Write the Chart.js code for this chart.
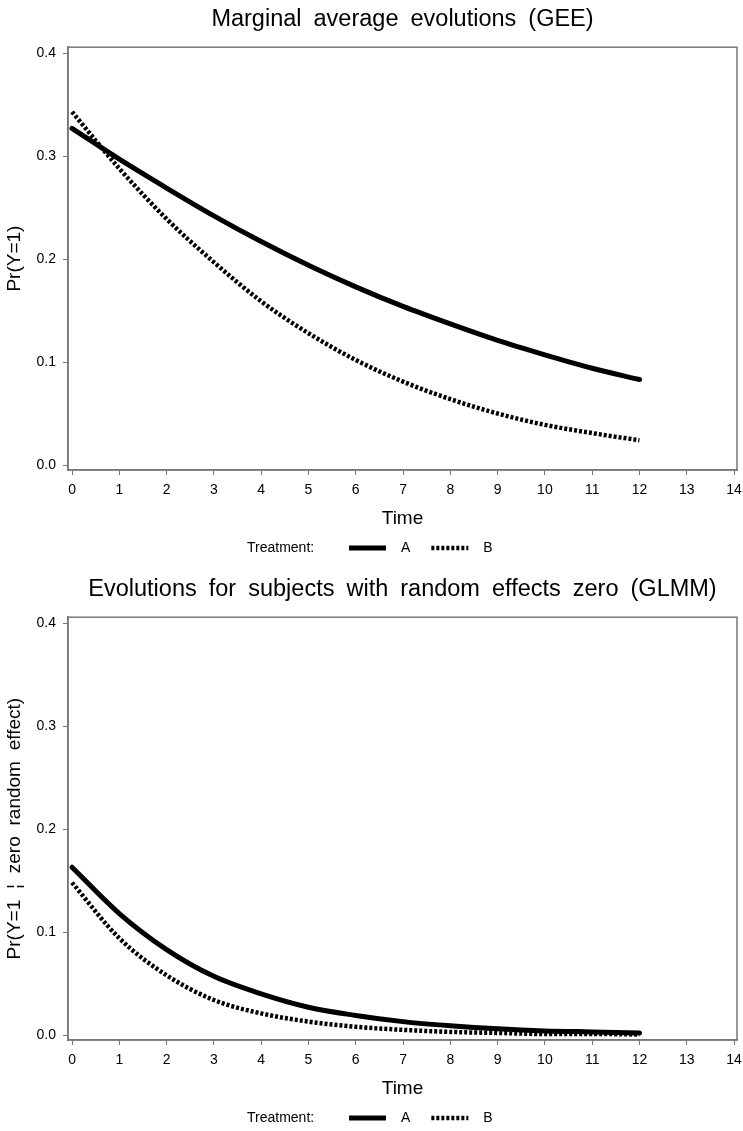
<!DOCTYPE html>
<html>
<head>
<meta charset="utf-8">
<script src="https://cdn.jsdelivr.net/npm/chart.js@4.4.0/dist/chart.umd.min.js"></script>
<style>
  html, body { margin: 0; padding: 0; background: #fff; }
  .box { position: absolute; left: 0; width: 743px; height: 561px; }
</style>
</head>
<body>
<div class="box" style="top:0"><canvas id="gee"></canvas></div>
<div class="box" style="top:570px"><canvas id="glmm"></canvas></div>
<script>
// time points
var times = [0, 1, 2, 3, 4, 5, 6, 7, 8, 9, 10, 11, 12];

// GEE marginal curves
var geeA = [0.327, 0.297, 0.269, 0.242, 0.217, 0.194, 0.173, 0.154, 0.137, 0.121, 0.107, 0.094, 0.083];
var geeB = [0.343, 0.288, 0.239, 0.197, 0.159, 0.128, 0.102, 0.081, 0.064, 0.050, 0.039, 0.031, 0.024];

// GLMM curves, random effect zero
var glmmA = [0.163, 0.118, 0.083, 0.057, 0.040, 0.027, 0.019, 0.013, 0.009, 0.006, 0.004, 0.003, 0.002];
var glmmB = [0.148, 0.094, 0.058, 0.034, 0.021, 0.013, 0.008, 0.005, 0.003, 0.002, 0.001, 0.001, 0.0005];

var xTicks = [0, 1, 2, 3, 4, 5, 6, 7, 8, 9, 10, 11, 12, 13, 14];
var yTicks = [0.0, 0.1, 0.2, 0.3, 0.4];

var FONT = "'Liberation Sans', Arial, sans-serif";
var AXIS = "#777777";

function pts(vals) {
  return vals.map(function (v, i) { return { x: times[i], y: v }; });
}

// box round the plot area + wide word spacing like the original
var framePlugin = {
  id: "frame",
  beforeDraw: function (chart) {
    chart.ctx.wordSpacing = "5.5px";
  },
  afterDraw: function (chart) {
    var a = chart.chartArea, ctx = chart.ctx;
    ctx.save();
    ctx.strokeStyle = AXIS;
    ctx.lineWidth = 1.5;
    ctx.strokeRect(a.left, a.top, a.right - a.left, a.bottom - a.top);
    ctx.restore();
  }
};

// "Treatment:  ——— A  ...... B" row under the x axis title
var legendRow = {
  id: "legendRow",
  afterDraw: function (chart) {
    var ctx = chart.ctx;
    var y = 548;
    var x = 247;
    ctx.save();
    ctx.font = "14px " + FONT;
    ctx.fillStyle = "#000";
    ctx.textBaseline = "middle";
    ctx.textAlign = "left";
    ctx.fillText("Treatment:", x, y);
    x = 349;
    chart.data.datasets.forEach(function (ds) {
      ctx.beginPath();
      ctx.strokeStyle = ds.borderColor;
      ctx.lineWidth = ds.borderWidth;
      ctx.setLineDash(ds.borderDash || []);
      ctx.moveTo(x, y);
      ctx.lineTo(x + 37, y);
      ctx.stroke();
      ctx.setLineDash([]);
      x += 37 + 15;
      ctx.fillText(ds.label, x, y);
      x += ctx.measureText(ds.label).width + 21;
    });
    ctx.restore();
  }
};

function makeChart(id, title, yTitle, a, b) {
  var ctx = document.getElementById(id).getContext("2d");
  return new Chart(ctx, {
    type: "line",
    data: {
      datasets: [
        {
          label: "A",
          data: pts(a),
          borderColor: "#000",
          borderWidth: 5,
          borderCapStyle: "round",
          pointRadius: 0,
          cubicInterpolationMode: "monotone",
          fill: false
        },
        {
          label: "B",
          data: pts(b),
          borderColor: "#000",
          borderWidth: 4.5,
          borderDash: [3, 2],
          pointRadius: 0,
          cubicInterpolationMode: "monotone",
          fill: false
        }
      ]
    },
    options: {
      responsive: true,
      maintainAspectRatio: false,
      animation: false,
      layout: { padding: { left: 0, right: 6, top: 0, bottom: 31 } },
      plugins: {
        legend: { display: false },
        tooltip: { enabled: false },
        title: {
          display: true,
          text: title,
          fullSize: false,
          color: "#000",
          font: { family: FONT, size: 23.5, weight: "normal" },
          padding: { top: 5, bottom: 14 }
        }
      },
      scales: {
        x: {
          type: "linear",
          min: -0.085,
          max: 14.063,
          afterBuildTicks: function (s) {
            s.ticks = xTicks.map(function (v) { return { value: v }; });
          },
          afterFit: function (s) {
            s.height = 60;
            s.paddingLeft = 0;
            s.paddingRight = 0;
          },
          ticks: {
            color: "#000",
            padding: 7,
            maxRotation: 0,
            autoSkip: false,
            font: { family: FONT, size: 14 },
            callback: function (v) { return v; }
          },
          grid: { drawOnChartArea: false, drawTicks: true, tickLength: 5, color: AXIS },
          border: { color: AXIS, width: 1.5 },
          title: {
            display: true,
            text: "Time",
            color: "#000",
            font: { family: FONT, size: 19 },
            padding: { top: 0, bottom: 0 }
          }
        },
        y: {
          type: "linear",
          min: -0.00485,
          max: 0.4058,
          afterBuildTicks: function (s) {
            s.ticks = yTicks.map(function (v) { return { value: v }; });
          },
          afterFit: function (s) {
            s.width = 68;
            s.paddingTop = 0;
            s.paddingBottom = 0;
          },
          ticks: {
            color: "#000",
            padding: 7,
            font: { family: FONT, size: 14 },
            callback: function (v) { return v.toFixed(1); }
          },
          grid: { drawOnChartArea: false, drawTicks: true, tickLength: 5, color: AXIS },
          border: { color: AXIS, width: 1.5 },
          title: {
            display: true,
            text: yTitle,
            color: "#000",
            font: { family: FONT, size: 19 },
            padding: { top: 3, bottom: 0 }
          }
        }
      }
    },
    plugins: [framePlugin, legendRow]
  });
}

makeChart("gee", "Marginal average evolutions (GEE)", "Pr(Y=1)", geeA, geeB);
makeChart("glmm", "Evolutions for subjects with random effects zero (GLMM)",
  "Pr(Y=1 \u00a6 zero random effect)", glmmA, glmmB);
</script>
</body>
</html>
